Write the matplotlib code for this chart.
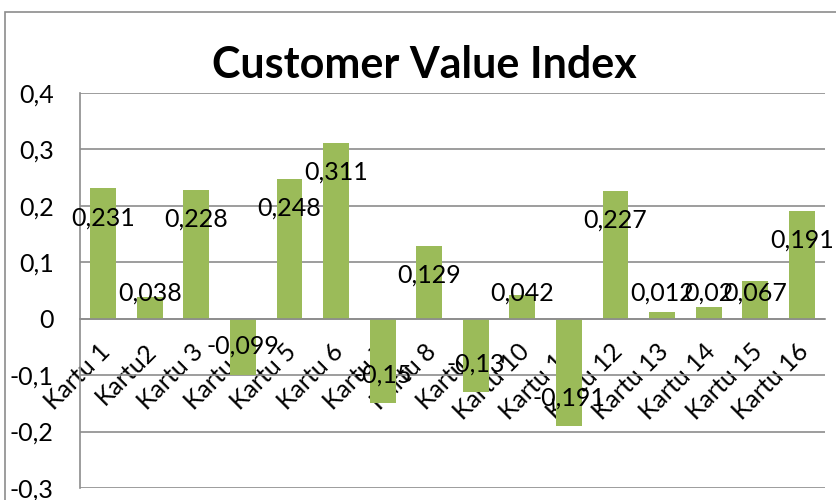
import matplotlib.pyplot as plt
import matplotlib.transforms as mtrans
from matplotlib.patches import Rectangle

kategori = ['Kartu 1', 'Kartu2', 'Kartu 3', 'Kartu 4', 'Kartu 5', 'Kartu 6', 'Kartu 7', 'Kartu 8',
            'Kartu 9', 'Kartu 10', 'Kartu 11', 'Kartu 12', 'Kartu 13', 'Kartu 14', 'Kartu 15', 'Kartu 16']
nilai = [0.231, 0.038, 0.228, -0.099, 0.248, 0.311, -0.15, 0.129,
         -0.13, 0.042, -0.191, 0.227, 0.012, 0.02, 0.067, 0.191]
yticks = [0.4, 0.3, 0.2, 0.1, 0, -0.1, -0.2, -0.3]

plt.rcParams['font.family'] = ['Lato', 'DejaVu Sans']

fig = plt.figure(figsize=(8.36, 5), dpi=100)
# bingkai luar chart
fig.patches.append(Rectangle((5/836, -0.01), 1.0, 1 - 12/500 + 0.01, transform=fig.transFigure,
                             fill=False, edgecolor='#8c8c8c', linewidth=1.2))
ax = fig.add_axes([80/836, 12/500, 745/836, 395/500])

x = list(range(len(nilai)))
ax.bar(x, nilai, width=0.556, color='#9BBB59', zorder=3)
ax.set_xlim(-0.5, len(nilai) - 0.5)
ax.set_ylim(-0.3, 0.4)

ax.set_yticks(yticks)
ax.set_yticklabels([('%g' % t).replace('.', ',') for t in yticks], fontsize=18)
ax.yaxis.grid(True, color='#8c8c8c', linewidth=1.2, zorder=0)
ax.tick_params(axis='y', length=0, pad=19)

for s in ['top', 'right']:
    ax.spines[s].set_visible(False)
ax.spines['left'].set_color('#8c8c8c')
ax.spines['left'].set_linewidth(1.2)
ax.spines['bottom'].set_position(('data', 0))
ax.spines['bottom'].set_color('#8c8c8c')
ax.spines['bottom'].set_linewidth(1.2)
ax.spines['bottom'].set_zorder(4)

ax.set_xticks(x)
ax.set_xticklabels(kategori, rotation=45, ha='right', va='top', rotation_mode='anchor', fontsize=18)
ax.tick_params(axis='x', length=0, pad=15)
geser = mtrans.ScaledTranslation(-5/100, 0, fig.dpi_scale_trans)
for lbl in ax.get_xticklabels():
    lbl.set_transform(lbl.get_transform() + geser)

# label nilai
for i, v in enumerate(nilai):
    if v >= 0:
        yl = max(v - 0.052, 0.046)
    else:
        yl = v + 0.05
    teks = ('%g' % v).replace('.', ',')
    ax.text(i, yl, teks, ha='center', va='center', fontsize=18, zorder=5)

fig.text(424/836, 1 - 65/500, 'Customer Value Index', ha='center', va='center',
         fontsize=31, fontweight='bold')

fig.savefig('out.png', dpi=100)
